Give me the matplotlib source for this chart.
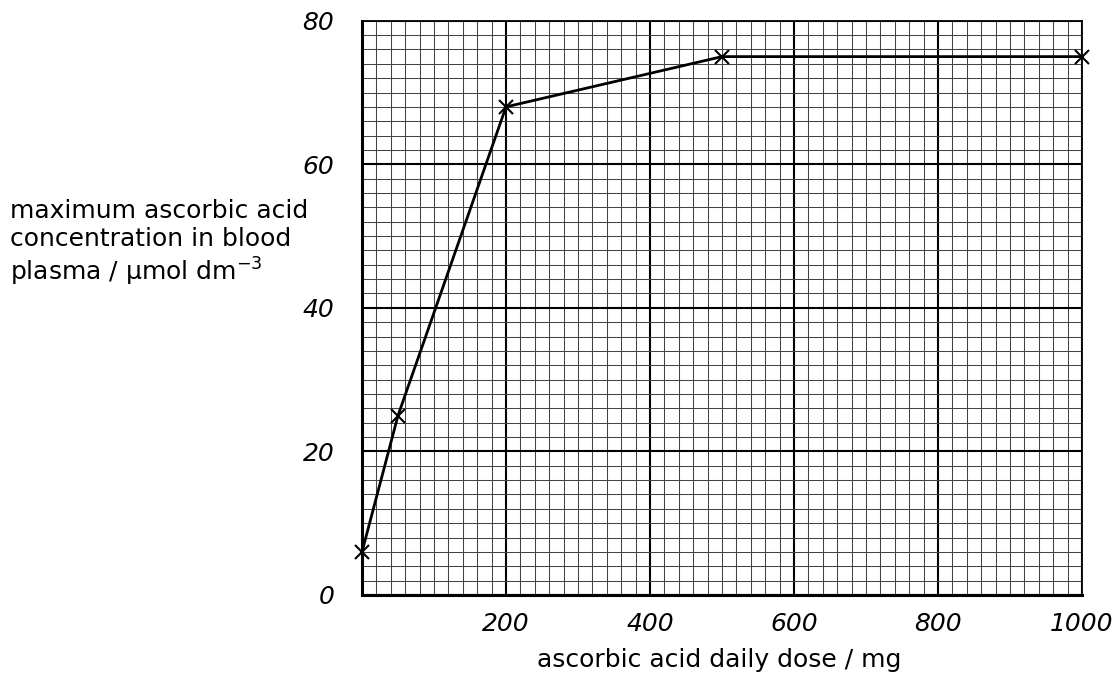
import matplotlib
matplotlib.use("Agg")
import matplotlib.pyplot as plt
from matplotlib.ticker import MultipleLocator

dose = [0, 50, 200, 500, 1000]
concentration = [6, 25, 68, 75, 75]
x_ticks = [200, 400, 600, 800, 1000]
x_tick_labels = ["200", "400", "600", "800", "1000"]
y_ticks = [0, 20, 40, 60, 80]
y_tick_labels = ["0", "20", "40", "60", "80"]

fig = plt.figure(figsize=(11.18, 6.82), dpi=100)
ax = fig.add_axes([0.3238, 0.1276, 0.6440, 0.8420])
ax.set_xlim(0, 1000)
ax.set_ylim(0, 80)

ax.xaxis.set_minor_locator(MultipleLocator(20))
ax.yaxis.set_minor_locator(MultipleLocator(2))
ax.set_xticks(x_ticks)
ax.set_xticklabels(x_tick_labels)
ax.set_yticks(y_ticks)
ax.set_yticklabels(y_tick_labels)
ax.grid(which="minor", color="#444444", linewidth=0.75)
ax.grid(which="major", color="black", linewidth=1.5)
ax.set_axisbelow(True)
ax.tick_params(which="both", length=0)
ax.tick_params(axis="x", pad=12, labelsize=18)
ax.tick_params(axis="y", pad=20, labelsize=18)
for lab in ax.get_xticklabels() + ax.get_yticklabels():
    lab.set_fontstyle("italic")

for side in ["left", "bottom"]:
    ax.spines[side].set_linewidth(2.2)
for side in ["top", "right"]:
    ax.spines[side].set_linewidth(1.3)

ax.plot(dose, concentration, color="black", linewidth=2, marker="x",
        markersize=10, markeredgewidth=1.5, clip_on=False, zorder=5)

fig.text(0.643, 0.032, "ascorbic acid daily dose / mg", ha="center", va="center", fontsize=18)
fig.text(0.009, 0.643, "maximum ascorbic acid\nconcentration in blood\nplasma / µmol dm$^{-3}$",
         ha="left", va="center", fontsize=18, linespacing=1.2)

fig.savefig("out.png", dpi=100)
